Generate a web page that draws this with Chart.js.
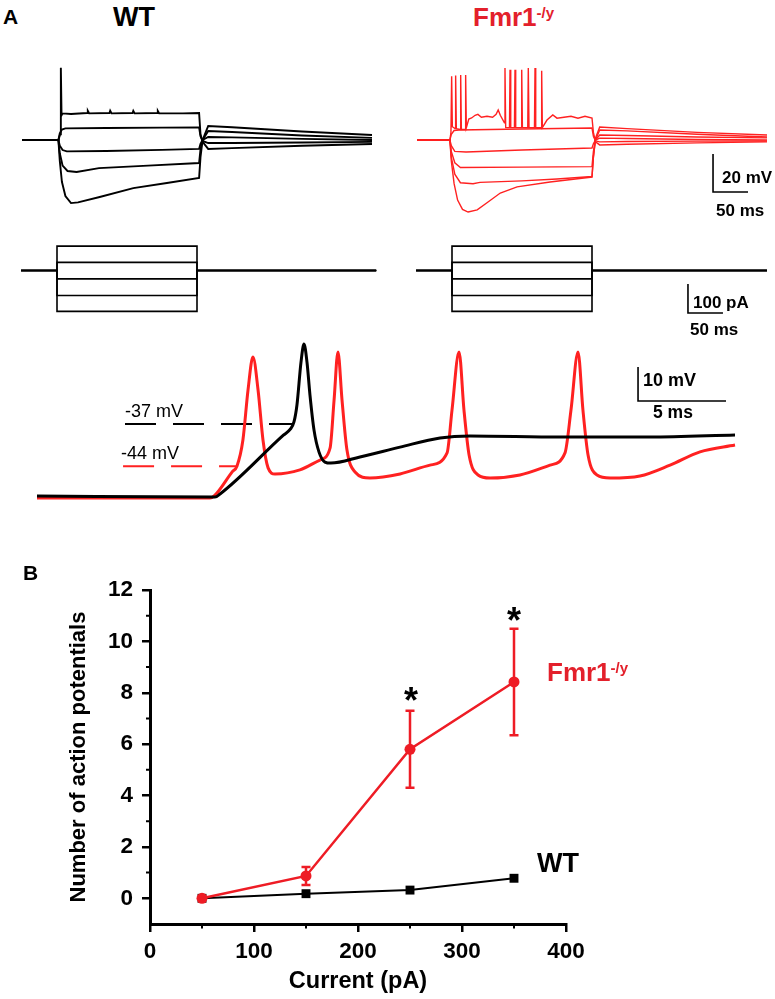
<!DOCTYPE html>
<html>
<head>
<meta charset="utf-8">
<script src="https://cdn.jsdelivr.net/npm/chart.js@4.4.1/dist/chart.umd.min.js"></script>
<style>
  html, body { margin:0; padding:0; background:#fff; }
  body { width:775px; height:999px; position:relative; overflow:hidden; font-family:"Liberation Sans", Arial, sans-serif; }
  canvas { position:absolute; }
  .t { position:absolute; line-height:1; transform:translateY(-50%); white-space:nowrap; color:#000; }
  .b { font-weight:bold; }
  .c { transform:translate(-50%,-50%); }
  .red { color:#e3202b; }
  .sup { position:relative; top:-0.52em; font-size:0.58em; }
</style>
</head>
<body>
<canvas id="wtTrace" width="380" height="190" style="left:0;top:45px"></canvas>
<canvas id="fmrTrace" width="380" height="190" style="left:395px;top:45px"></canvas>
<canvas id="wtStep" width="380" height="90" style="left:0;top:235px"></canvas>
<canvas id="fmrStep" width="380" height="90" style="left:395px;top:235px"></canvas>
<canvas id="apChart" width="775" height="190" style="left:0;top:330px"></canvas>
<canvas id="fiChart" width="775" height="449" style="left:0;top:550px"></canvas>

<div class="t b" style="left:3px;top:16px;font-size:21px">A</div>
<div class="t b" style="left:113px;top:17px;font-size:27px">WT</div>
<div class="t b red" style="left:473px;top:17px;font-size:26px">Fmr1<span class="sup">-/y</span></div>
<div class="t b" style="left:722px;top:177px;font-size:17px">20 mV</div>
<div class="t b" style="left:716px;top:210px;font-size:17px">50 ms</div>
<div class="t b" style="left:693px;top:302px;font-size:17px">100 pA</div>
<div class="t b" style="left:690px;top:329px;font-size:17px">50 ms</div>
<div class="t b" style="left:643px;top:380px;font-size:18px">10 mV</div>
<div class="t b" style="left:653px;top:413px;font-size:17.5px">5 ms</div>
<div class="t" style="left:125px;top:411px;font-size:18px">-37 mV</div>
<div class="t" style="left:121px;top:453px;font-size:18px">-44 mV</div>
<div class="t b" style="left:23px;top:572px;font-size:21px">B</div>
<div class="t b red" style="left:547px;top:672px;font-size:26px">Fmr1<span class="sup">-/y</span></div>
<div class="t b" style="left:537px;top:863px;font-size:27px">WT</div>
<div class="t b c" style="left:411px;top:701px;font-size:36px">*</div>
<div class="t b c" style="left:514px;top:621px;font-size:36px">*</div>

<script>
// ---------- Panel A: voltage traces (t in ms, V in mV) ----------
const wtTrace1 = [[0,-65],[52,-65],[54.5,-62],[55.5,-27],[56.5,-52],[58,-51],[70,-51.3],[93,-50.8],[94,-49.6],[96,-51],[125,-50.8],[126,-49.6],[128,-51],[158,-50.8],[159,-49.7],[161,-51],[193,-50.8],[194,-49.7],[196,-51],[230,-51],[253,-50.8],[255,-62],[258,-66],[266,-69.7],[300,-69.3],[400,-68],[500,-67.1]];
const wtTrace2 = [[0,-65],[52,-65],[54,-61.5],[57,-59.5],[62,-58.9],[120,-58.7],[200,-58.5],[253,-58.4],[255,-63],[258,-65.5],[266,-66.6],[300,-66.6],[400,-66.3],[500,-66]];
const wtTrace3 = [[0,-65],[52,-65],[54,-68],[58,-70.3],[64,-71],[120,-70.8],[200,-70.2],[253,-69.7],[255,-67],[258,-65],[266,-63.4],[300,-63.6],[400,-64.4],[500,-65]];
const wtTrace4 = [[0,-65],[52,-65],[54,-72],[58,-78.5],[65,-81.3],[78,-81.8],[110,-79.8],[180,-78.5],[253,-77.1],[255,-70],[258,-65],[266,-60.3],[300,-60.8],[400,-62.6],[500,-63.9]];
const wtTrace5 = [[0,-65],[52,-65],[54,-76],[57,-87],[62,-94.5],[70,-98.2],[80,-97.8],[111,-95],[159,-90.3],[207,-87.6],[253,-85],[255,-74],[258,-65],[266,-57.6],[300,-58.3],[400,-60.5],[500,-62.4]];

const fmrTrace1 = [[0,-65],[47,-65],[48.5,-61],[49.5,-31.5],[50.5,-58],[54.4,-59],[55.2,-31],[56.2,-59],[61.6,-59.5],[62.4,-30.8],[63.4,-59.5],[68.7,-59.5],[69.5,-30.8],[70.5,-58.5],[74,-54],[78,-53.4],[83,-52],[87,-51.5],[92,-53],[100,-52.5],[108,-53],[113,-51.5],[116,-49.2],[119,-52],[124.9,-56],[125.7,-27.1],[126.7,-58.5],[132.1,-58.5],[132.9,-28],[133.9,-58.5],[139.2,-58.5],[140,-28],[141,-58.5],[148.8,-58.5],[149.6,-28],[150.6,-58.5],[158.2,-58.5],[159,-27.1],[160,-58.5],[167.8,-58.5],[168.6,-27.1],[169.6,-58.5],[177.3,-58.5],[178.1,-28.5],[179.1,-58.5],[185.7,-54.5],[194,-51.8],[200,-53.5],[210,-53],[220,-52.5],[230,-53.5],[240,-52.5],[250,-53.4],[252,-61],[255,-66],[261,-67.6],[300,-67.2],[400,-66.5],[500,-66]];
const fmrTrace2 = [[0,-65],[47,-65],[49,-62],[53,-60],[60,-59.7],[150,-59.2],[250,-58.7],[252,-63],[255,-65.5],[261,-66],[300,-65.8],[400,-65.6],[500,-65.5]];
const fmrTrace3 = [[0,-65],[47,-65],[49,-68],[54,-71],[70,-71.3],[150,-70.3],[250,-69.2],[252,-67],[255,-65],[261,-64],[300,-64.2],[400,-64.7],[500,-65]];
const fmrTrace4 = [[0,-65],[47,-65],[49,-71],[54,-77],[62,-79.5],[150,-79.3],[250,-79],[252,-71],[255,-65],[261,-62.4],[300,-62.6],[400,-63.4],[500,-63.9]];
const fmrTrace5 = [[0,-65],[47,-65],[49,-74],[54,-83],[62,-87.5],[80,-88],[90,-87.3],[150,-86.5],[200,-85.5],[250,-84.2],[252,-74],[255,-65],[261,-59.7],[300,-60.2],[400,-62],[500,-63.4]];
const fmrTrace6 = [[0,-65],[47,-65],[49,-76],[53,-88],[58,-96.6],[65,-101.5],[73,-102.9],[86,-101.8],[100,-98],[119,-92.9],[143,-89.7],[190,-87.1],[250,-84.5],[252,-74],[255,-64],[261,-58.2],[300,-59],[400,-61],[500,-62.4]];

// scale bar: 50 ms x 20 mV
const traceScaleBar = [[422.9,-72.4],[422.9,-92.4],[472.9,-92.4]];

// ---------- Panel A: current steps (pA) ----------
const stepLevels = [84, 28, -29, -86, -141];
const stepOn = 50, stepOff = 250;
const wtStepSpan = [-1.4, 506];
const fmrStepSpan = [-1.4, 500];
// scale bar: 50 ms x 100 pA
const stepScaleBar = [[387.1,-46.6],[387.1,-146.6],[437.1,-146.6]];

// ---------- Panel A: expanded action potentials (t in ms, V in mV) ----------
const apWT = [[0,-58.2],[10.11,-58.5],[10.4,-57.6],[14.0,-40.3],[14.38,-38.6],[14.6,-36.4],[14.77,-31.4],[15.0,-18.8],[15.17,-13.5],[15.34,-18.8],[15.51,-28.5],[15.74,-38.8],[16.02,-45.2],[16.36,-48.2],[16.7,-48.5],[18.35,-46.7],[20.63,-43.8],[22.9,-41.1],[24.6,-40.5],[29.72,-40.8],[34.83,-40.8],[39.66,-40.2]];
const apFmr = [[0,-58.8],[9.83,-58.8],[10.1,-58.0],[11.1,-51.0],[11.36,-49.4],[11.7,-41.7],[11.99,-27.0],[12.27,-17.3],[12.56,-27.0],[12.84,-41.7],[13.13,-49.9],[13.52,-51.7],[14.94,-50.5],[16.08,-47.6],[16.65,-44.1],[16.88,-29.9],[17.1,-15.8],[17.33,-29.9],[17.61,-44.6],[18.07,-51.1],[18.92,-52.9],[20.63,-51.7],[22.33,-49.1],[23.3,-45.5],[23.58,-32.9],[23.98,-15.8],[24.26,-32.9],[24.55,-46.1],[25.06,-52.0],[25.74,-52.9],[27.44,-52.0],[29.15,-49.1],[30.0,-45.5],[30.34,-32.9],[30.74,-15.8],[31.02,-32.9],[31.31,-46.1],[31.82,-52.0],[32.56,-52.9],[34.26,-52.3],[35.97,-49.1],[37.67,-45.2],[39.66,-43.2]];
const thresholdWT = -37, thresholdFmr = -49.4;
const thresholdWTSpan = [5.0, 14.49];
const thresholdFmrSpan = [4.89, 11.36];
// scale bar: 5 ms x 10 mV
const apScaleBar = [[34.15,-20.24],[34.15,-30.24],[39.15,-30.24]];

// ---------- Panel B: number of APs vs current ----------
const currents = [50, 150, 250, 350];
const fmrMean = [0, 0.87, 5.8, 8.42];
const fmrSem  = [0, 0.35, 1.5, 2.07];
const wtMean  = [0, 0.18, 0.32, 0.78];
const wtSem   = [0, 0, 0, 0];
const xTickValues = [0, 100, 200, 300, 400];
const yTickValues = [0, 2, 4, 6, 8, 10, 12];
const xMinorTicks = [50, 150, 250, 350];
const yMinorTicks = [1, 3, 5, 7, 9, 11];

// ---------- helpers ----------
Chart.defaults.font.family = '"Liberation Sans", Arial, sans-serif';
Chart.defaults.color = '#000';
const BLACK = '#000';
const TRACE_RED = '#ff2121';
const B_RED = '#ee1c25';

function lineDs(data, color, width, extra) {
  return Object.assign({ data: data, borderColor: color, backgroundColor: color, borderWidth: width,
    pointRadius: 0, fill: false, tension: 0 }, extra || {});
}
function plainChart(id, datasets, xr, yr) {
  return new Chart(document.getElementById(id), {
    type: 'line',
    data: { datasets: datasets },
    options: {
      animation: false, responsive: false, devicePixelRatio: 1,
      events: [],
      layout: { padding: 0 },
      plugins: { legend: { display: false }, tooltip: { enabled: false } },
      scales: {
        x: { type: 'linear', min: xr[0], max: xr[1], display: false },
        y: { type: 'linear', min: yr[0], max: yr[1], display: false }
      }
    }
  });
}
function stepTrace(level, span) {
  return [[span[0], 0], [stepOn, 0], [stepOn, level], [stepOff, level], [stepOff, 0], [span[1], 0]];
}

// trace charts: 0.7 px/ms, 1.9 px/mV
const traceX = [-31.4286, 511.4286];
const traceY = [-115, -15];
plainChart('wtTrace', [wtTrace1, wtTrace2, wtTrace3, wtTrace4, wtTrace5].map(d => lineDs(d, BLACK, 1.9)), traceX, traceY);
plainChart('fmrTrace', [fmrTrace1, fmrTrace2, fmrTrace3, fmrTrace4, fmrTrace5, fmrTrace6].map(d => lineDs(d, TRACE_RED, 1.4))
  .concat([lineDs(traceScaleBar, BLACK, 1.6)]), traceX, traceY);

// step charts: 0.7 px/ms, 0.29 px/pA
const stepY = [-187.93, 122.41];
plainChart('wtStep', stepLevels.map(l => lineDs(stepTrace(l, wtStepSpan), BLACK, 1.6)), traceX, stepY);
plainChart('fmrStep', stepLevels.map(l => lineDs(stepTrace(l, fmrStepSpan), BLACK, 1.6))
  .concat([lineDs(stepScaleBar, BLACK, 1.6)]), traceX, stepY);

// expanded AP chart: 17.6 px/ms, 3.4 px/mV
plainChart('apChart', [
  lineDs(apWT, BLACK, 3, { cubicInterpolationMode: 'monotone', order: 0 }),
  lineDs(apFmr, TRACE_RED, 3, { cubicInterpolationMode: 'monotone', order: 1 }),
  lineDs(thresholdWTSpan.map(t => [t, thresholdWT]), BLACK, 2, { borderDash: [31, 17], order: 2 }),
  lineDs(thresholdFmrSpan.map(t => [t, thresholdFmr]), TRACE_RED, 2, { borderDash: [31, 17], order: 2 }),
  lineDs(apScaleBar, BLACK, 1.6, { order: 2 })
], [-2.1023, 41.932], [-65.235, -9.353]);

// ---------- Panel B chart ----------
const errorBars = {
  id: 'errorBars',
  beforeDatasetsDraw(chart) {
    const ctx = chart.ctx, xs = chart.scales.x, ys = chart.scales.y;
    chart.data.datasets.forEach(ds => {
      if (!ds.sem) return;
      ctx.save();
      ctx.strokeStyle = ds.borderColor;
      ctx.lineWidth = 2.5;
      ds.data.forEach((p, i) => {
        const e = ds.sem[i];
        if (!e) return;
        const x = xs.getPixelForValue(p.x);
        const y1 = ys.getPixelForValue(p.y + e), y2 = ys.getPixelForValue(p.y - e);
        ctx.beginPath();
        ctx.moveTo(x, y1); ctx.lineTo(x, y2);
        ctx.moveTo(x - 4.5, y1); ctx.lineTo(x + 4.5, y1);
        ctx.moveTo(x - 4.5, y2); ctx.lineTo(x + 4.5, y2);
        ctx.stroke();
      });
      ctx.restore();
    });
  }
};
const minorTicks = {
  id: 'minorTicks',
  afterDraw(chart) {
    const ctx = chart.ctx, xs = chart.scales.x, ys = chart.scales.y, a = chart.chartArea;
    ctx.save();
    ctx.strokeStyle = '#000';
    ctx.lineWidth = 2;
    ctx.beginPath();
    yMinorTicks.forEach(v => { const y = ys.getPixelForValue(v); ctx.moveTo(a.left - 4, y); ctx.lineTo(a.left, y); });
    xMinorTicks.forEach(v => { const x = xs.getPixelForValue(v); ctx.moveTo(x, a.bottom); ctx.lineTo(x, a.bottom + 4.5); });
    ctx.stroke();
    ctx.restore();
  }
};

new Chart(document.getElementById('fiChart'), {
  type: 'line',
  data: {
    datasets: [
      { label: 'Fmr1-/y', data: currents.map((c, i) => ({ x: c, y: fmrMean[i] })), sem: fmrSem,
        borderColor: B_RED, backgroundColor: B_RED, borderWidth: 2.5,
        pointStyle: 'circle', pointRadius: 5.5, pointBorderWidth: 0, order: 0, tension: 0 },
      { label: 'WT', data: currents.map((c, i) => ({ x: c, y: wtMean[i] })), sem: wtSem,
        borderColor: BLACK, backgroundColor: BLACK, borderWidth: 2,
        pointStyle: 'rect', pointRadius: 6.3, pointBorderWidth: 0, order: 1, tension: 0 }
    ]
  },
  options: {
    animation: false, responsive: false, devicePixelRatio: 1,
    events: [],
    layout: { padding: { left: 0, right: 209, top: 40, bottom: 0 } },
    plugins: { legend: { display: false }, tooltip: { enabled: false } },
    scales: {
      x: {
        type: 'linear', min: 0, max: 400,
        afterBuildTicks: s => { s.ticks = xTickValues.map(v => ({ value: v })); },
        afterFit: s => { s.height = 75; },
        ticks: { font: { size: 22.5, weight: 'bold' }, color: '#000', padding: 6, maxRotation: 0 },
        grid: { drawOnChartArea: false, drawTicks: true, tickLength: 8, color: '#000', lineWidth: 2.5 },
        border: { display: true, color: '#000', width: 3 },
        title: { display: true, text: 'Current (pA)', font: { size: 23.5, weight: 'bold' }, color: '#000', padding: { top: 0, bottom: 3 } }
      },
      y: {
        type: 'linear', min: -1, max: 12,
        afterBuildTicks: s => { s.ticks = yTickValues.map(v => ({ value: v })); },
        afterFit: s => { s.width = 150; },
        ticks: { font: { size: 22.5, weight: 'bold' }, color: '#000', padding: 9 },
        grid: { drawOnChartArea: false, drawTicks: true, tickLength: 8, color: '#000', lineWidth: 2.5 },
        border: { display: true, color: '#000', width: 3 },
        title: { display: true, text: 'Number of action potentials', font: { size: 22, weight: 'bold' }, color: '#000', padding: { top: 66, bottom: 0 } }
      }
    }
  },
  plugins: [errorBars, minorTicks]
});
</script>
</body>
</html>
